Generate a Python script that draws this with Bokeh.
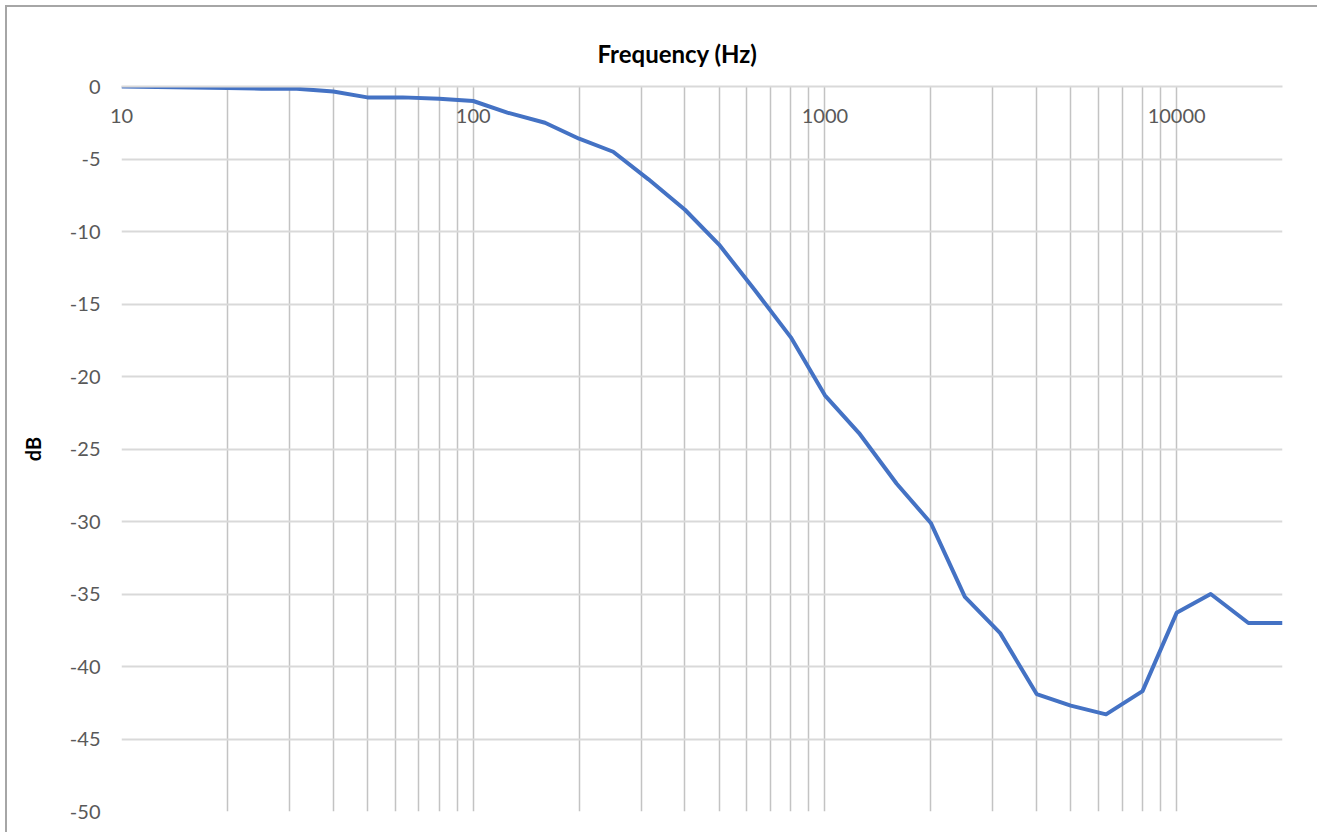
from bokeh.plotting import figure
from bokeh.models import (Range1d, FixedTicker, ColumnDataSource,
                          PrintfTickFormatter, InlineStyleSheet)
from bokeh.embed import file_html
from bokeh.resources import INLINE

# ---- data ----
freq_hz = [10, 20, 25, 31.5, 40, 50, 63, 80, 100, 125, 160, 200, 250, 315, 400,
           500, 630, 800, 1000, 1250, 1600, 2000, 2500, 3150, 4000, 5000, 6300,
           8000, 10000, 12500, 16000, 20000]
level_db = [0.0, -0.1, -0.15, -0.15, -0.35, -0.75, -0.75, -0.85, -1.0, -1.8, -2.5,
            -3.6, -4.5, -6.4, -8.5, -10.9, -14.0, -17.3, -21.3, -23.9, -27.4,
            -30.1, -35.2, -37.7, -41.9, -42.7, -43.3, -41.7, -36.3, -35.0,
            -37.0, -37.0]
y_ticks = [0, -5, -10, -15, -20, -25, -30, -35, -40, -45, -50]
x_tick_values = [10, 100, 1000, 10000]
x_tick_labels = ["10", "100", "1000", "10000"]
decades = [10, 100, 1000, 10000]
multipliers = [1, 2, 3, 4, 5, 6, 7, 8, 9]
x_min, x_max = 10, 20000
y_min, y_max = -50, 0

grid_x = [d * m for d in decades for m in multipliers if d * m <= x_max]

FONT = "Lato"
BORDER = "#a6a6a6"

p = figure(width=1301, height=826, x_axis_type="log", x_axis_location="above",
           x_range=Range1d(x_min, x_max), y_range=Range1d(y_min, y_max),
           output_backend="svg", toolbar_location=None,
           min_border_left=121, min_border_right=19, min_border_top=86,
           min_border_bottom=15)

# chart-area border (top and left edges), drawn over the canvas
p.stylesheets = [InlineStyleSheet(css=f"""
:host::after {{
  content: "";
  position: absolute;
  left: 5px; top: 5px; right: -40px; bottom: -40px;
  border-top: 2px solid {BORDER};
  border-left: 2px solid {BORDER};
  pointer-events: none;
  z-index: 100;
}}
""")]

p.title.text = "Frequency (Hz)"
p.title.text_font = FONT
p.title.text_font_size = "24px"
p.title.text_font_style = "bold"
p.title.text_color = "#000000"
p.title.align = "left"
p.title.offset = 476
p.title.standoff = 38

p.outline_line_color = None
p.background_fill_color = "white"
p.border_fill_color = "white"

# x axis: line at 0 dB, labels drawn just below it (inside the plot area)
p.xaxis.ticker = FixedTicker(ticks=x_tick_values)
p.xaxis.major_label_overrides = dict(zip(x_tick_values, x_tick_labels))
p.xaxis.axis_line_color = "#d9d9d9"
p.xaxis.axis_line_width = 2
p.xaxis.major_tick_out = 0
p.xaxis.major_tick_in = 0
p.xaxis.minor_tick_out = 0
p.xaxis.minor_tick_in = 0
p.xaxis.major_label_standoff = -36
p.xaxis.major_label_text_font = FONT
p.xaxis.major_label_text_font_size = "20px"
p.xaxis.major_label_text_color = "#595959"

p.xgrid.ticker = FixedTicker(ticks=grid_x)
p.xgrid.grid_line_color = "#c3c3c3"
p.xgrid.grid_line_width = 1.5

p.yaxis.ticker = FixedTicker(ticks=y_ticks)
p.yaxis.formatter = PrintfTickFormatter(format="%d")
p.yaxis.axis_line_color = None
p.yaxis.major_tick_out = 0
p.yaxis.major_tick_in = 0
p.yaxis.minor_tick_out = 0
p.yaxis.minor_tick_in = 0
p.yaxis.major_label_standoff = 21
p.yaxis.major_label_text_font = FONT
p.yaxis.major_label_text_font_size = "20px"
p.yaxis.major_label_text_color = "#595959"
p.yaxis.axis_label = "dB"
p.yaxis.axis_label_text_font = FONT
p.yaxis.axis_label_text_font_size = "20px"
p.yaxis.axis_label_text_font_style = "bold"
p.yaxis.axis_label_text_color = "#000000"
p.yaxis.axis_label_standoff = 22
p.ygrid.ticker = FixedTicker(ticks=y_ticks)
p.ygrid.grid_line_color = "#d9d9d9"
p.ygrid.grid_line_width = 2

# data line
src = ColumnDataSource(dict(f=freq_hz, db=level_db))
p.line("f", "db", source=src, line_color="#4472C4", line_width=4,
       line_join="round")

open("out.html", "w").write(file_html(p, INLINE))
